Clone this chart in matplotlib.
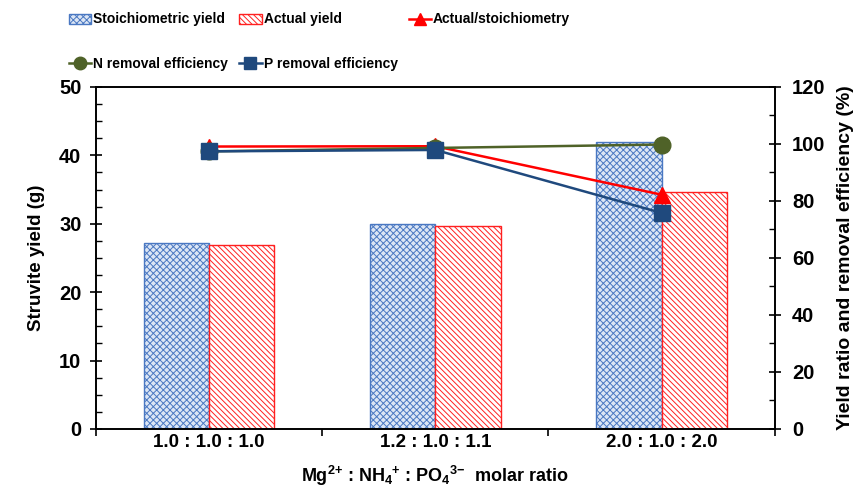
import matplotlib
matplotlib.use("Agg")
import matplotlib.pyplot as plt
from matplotlib.ticker import MultipleLocator, FixedLocator
import numpy as np

categories = ["1.0 : 1.0 : 1.0", "1.2 : 1.0 : 1.1", "2.0 : 1.0 : 2.0"]
stoich_yield = [27.2, 29.9, 42.0]
actual_yield = [26.9, 29.6, 34.6]
ratio = [99.1, 99.2, 82.2]
n_removal = [97.4, 98.6, 99.8]
p_removal = [97.4, 97.9, 75.8]

plt.rcParams["font.family"] = ["Liberation Sans", "DejaVu Sans"]
plt.rcParams["font.weight"] = "bold"
plt.rcParams["mathtext.fontset"] = "custom"
plt.rcParams["mathtext.rm"] = "Liberation Sans:bold"
plt.rcParams["mathtext.bf"] = "Liberation Sans:bold"
plt.rcParams["mathtext.default"] = "bf"
plt.rcParams["hatch.linewidth"] = 0.7

C_BLUE = "#4a78c2"
C_RED = "#ff2020"

fig = plt.figure(figsize=(8.57, 4.97), dpi=100)
ax = fig.add_axes([0.112, 0.137, 0.792, 0.688])
ax2 = ax.twinx()

x = np.arange(len(categories))
w = 0.288
b1 = ax.bar(x - w / 2, stoich_yield, width=w, facecolor="#dce6f5",
            edgecolor=C_BLUE, hatch="xxxxx", linewidth=1.0, label="Stoichiometric yield")
b2 = ax.bar(x + w / 2, actual_yield, width=w, facecolor="white",
            edgecolor=C_RED, hatch="\\\\\\\\\\\\", linewidth=1.0, label="Actual yield")

l1, = ax2.plot(x, ratio, color="#ff0000", marker="^", markersize=11, lw=1.8,
               label="Actual/stoichiometry")
l2, = ax2.plot(x, n_removal, color="#4f6228", marker="o", markersize=12, lw=1.8,
               label="N removal efficiency")
l3, = ax2.plot(x, p_removal, color="#1f497d", marker="s", markersize=12, lw=1.8,
               label="P removal efficiency")

ax.set_xlim(-0.5, 2.5)
ax.set_ylim(0, 50)
ax2.set_ylim(0, 120)

ax.xaxis.set_major_locator(FixedLocator([-0.5, 0.5, 1.5, 2.5]))
ax.xaxis.set_minor_locator(FixedLocator(x))
ax.set_xticklabels([], minor=False)
ax.set_xticklabels(categories, minor=True, fontsize=13.5, fontweight="bold")
ax.tick_params(axis="x", which="major", direction="out", length=5, width=1.2)
ax.tick_params(axis="x", which="minor", length=0, pad=4)

ax.yaxis.set_major_locator(MultipleLocator(10))
ax.yaxis.set_minor_locator(MultipleLocator(2.5))
ax.tick_params(axis="y", which="major", direction="inout", length=9, width=1.2,
               labelsize=14.5, pad=6)
ax.tick_params(axis="y", which="minor", direction="in", length=4, width=1.0)
ax2.yaxis.set_major_locator(MultipleLocator(20))
ax2.yaxis.set_minor_locator(MultipleLocator(10))
ax2.tick_params(axis="y", which="major", direction="inout", length=9, width=1.2,
                labelsize=14.5, pad=8)
ax2.tick_params(axis="y", which="minor", direction="in", length=4, width=1.0)
for lab in ax.get_yticklabels() + ax2.get_yticklabels():
    lab.set_fontweight("bold")

for a in (ax, ax2):
    for s in a.spines.values():
        s.set_linewidth(1.2)

ax.set_ylabel("Struvite yield (g)", fontsize=13.5, fontweight="bold", labelpad=10)
ax2.set_ylabel("Yield ratio and removal efficiency (%)", fontsize=14,
               fontweight="bold", labelpad=8)
ax.set_xlabel(r"Mg$^{2{+}}$ : NH$_4$$^{+}$ : PO$_4$$^{3{-}}$  molar ratio",
              fontsize=13, fontweight="bold", labelpad=9)

handles = [b1, l2, b2, l3, l1]
labels = [h.get_label() for h in handles]
fig.legend(handles, labels, loc="upper left", bbox_to_anchor=(0.066, 1.0),
           ncol=3, frameon=False, handlelength=1.6, markerscale=0.75,
           handletextpad=0.15, columnspacing=0.8, labelspacing=2.2,
           prop={"family": "Liberation Sans", "weight": "bold", "size": 10})

fig.savefig("out.png", dpi=100)
